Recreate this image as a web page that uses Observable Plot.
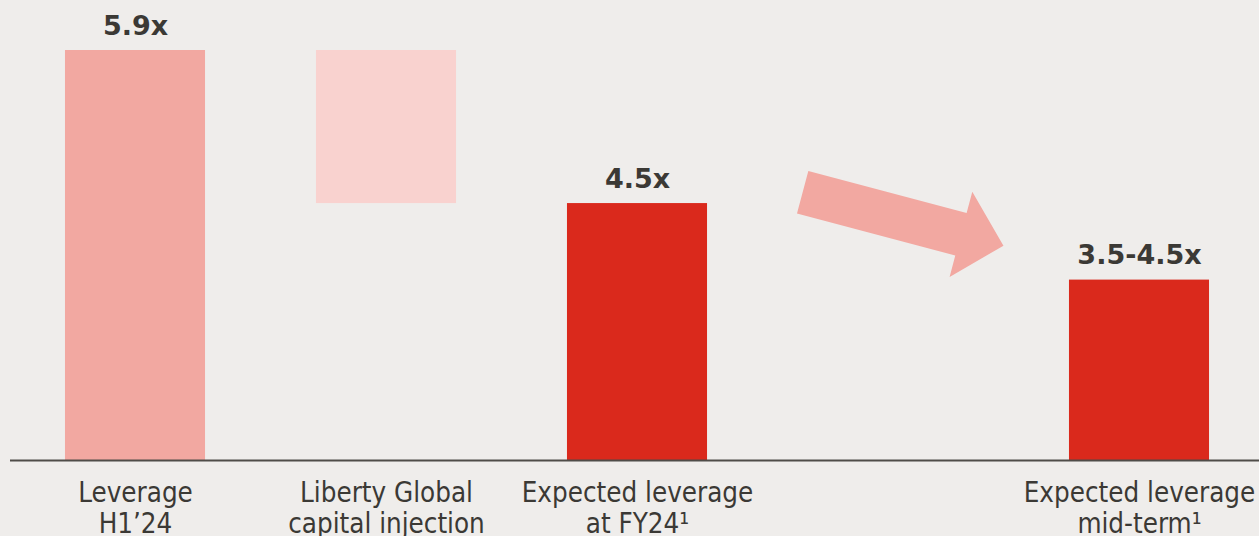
<!DOCTYPE html>
<html>
<head>
<meta charset="utf-8">
<script src="https://cdn.jsdelivr.net/npm/d3@7"></script>
<script src="https://cdn.jsdelivr.net/npm/@observablehq/plot@0.6"></script>
<style>
  html, body { margin: 0; padding: 0; background: #efedeb; }
  #chart svg { display: block; }
</style>
</head>
<body>
<div id="chart"></div>
<script>
// ---- data ----
const categories = ["Leverage\nH1’24", "Liberty Global\ncapital injection", "Expected leverage\nat FY24¹", "Expected leverage\nmid-term¹"];
const slots = [0, 1, 2, 4];                 // slot 3 holds the arrow
const kinds = ["actual", "bridge", "expected", "expected"];
const barLow = [null, 4.5, null, null];     // null = bar starts at axis floor
const barHigh = [5.9, 5.9, 4.5, 3.8];
const valueLabels = ["5.9x", "", "4.5x", "3.5-4.5x"];
const axisFloor = 2.15;
const arrowFrom = {slot: 2.66, value: 4.6};
const arrowTo = {slot: 3.46, value: 4.11};

const rows = categories.map((c, i) => ({
  category: c, slot: slots[i], kind: kinds[i],
  low: barLow[i] ?? axisFloor, high: barHigh[i], label: valueLabels[i]
}));

const HALF = 0.279;
const textColor = "#3b3935";

const arrowMark = (index, scales) => {
  const {x, y} = scales;
  const x0 = x(arrowFrom.slot), y0 = y(arrowFrom.value);
  const x1 = x(arrowTo.slot), y1 = y(arrowTo.value);
  const dx = x1 - x0, dy = y1 - y0, L = Math.hypot(dx, dy);
  const ux = dx / L, uy = dy / L, nx = -uy, ny = ux;
  const sw = 22, hw = 44, hl = 44;
  const bx = x1 - ux * hl, by = y1 - uy * hl;
  const pts = [
    [x0 + nx * sw, y0 + ny * sw],
    [bx + nx * sw, by + ny * sw],
    [bx + nx * hw, by + ny * hw],
    [x1, y1],
    [bx - nx * hw, by - ny * hw],
    [bx - nx * sw, by - ny * sw],
    [x0 - nx * sw, y0 - ny * sw]
  ];
  const path = d3.create("svg:path")
    .attr("d", "M" + pts.map(p => p.join(",")).join("L") + "Z")
    .attr("fill", "#f2a8a1");
  return path.node();
};

const chart = Plot.plot({
  width: 1259,
  height: 536,
  marginLeft: 10,
  marginRight: 0,
  marginTop: 0,
  marginBottom: 0,
  style: {background: "#efedeb"},
  x: {domain: [-0.5, 4.5], range: [9.5, 1264.5], axis: null},
  y: {domain: [axisFloor, 5.9], range: [460, 50], axis: null},
  color: {domain: ["actual", "bridge", "expected"], range: ["#f2a8a1", "#f9d2cf", "#da291c"]},
  marks: [
    Plot.rect(rows, {x1: d => d.slot - HALF, x2: d => d.slot + HALF, y1: "low", y2: "high", fill: "kind"}),
    Plot.ruleY([axisFloor], {stroke: "#4f4c48", strokeWidth: 2}),
    arrowMark,
    Plot.text(rows, {
      x: "slot", y: "high", text: "label",
      lineAnchor: "bottom", dy: -16,
      fontFamily: "DejaVu Sans", fontWeight: "bold", fontSize: 27, fill: textColor
    }),
    Plot.text(rows, {
      x: "slot", y: axisFloor, text: "category",
      lineAnchor: "top", dy: 19, lineHeight: 1.13,
      fontFamily: "DejaVu Sans Condensed", fontSize: 27.5, fill: textColor
    })
  ]
});
document.getElementById("chart").append(chart);
</script>
</body>
</html>
